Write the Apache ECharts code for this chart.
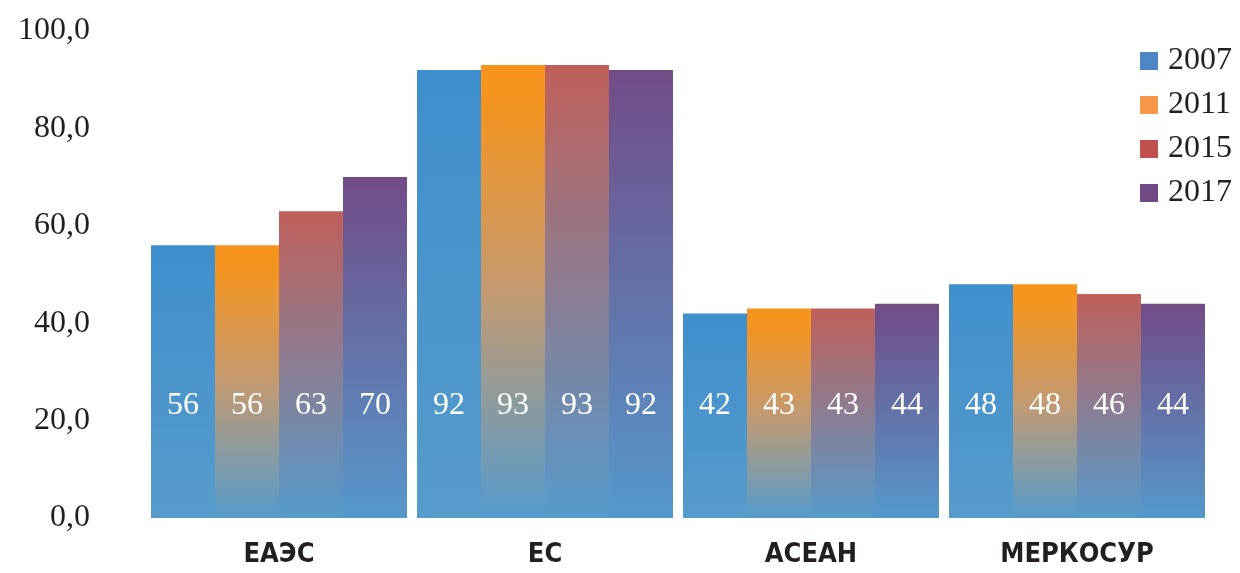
<!DOCTYPE html>
<html>
<head>
<meta charset="utf-8">
<script src="https://cdn.jsdelivr.net/npm/echarts@6/dist/echarts.min.js"></script>
<style>
html,body{margin:0;padding:0;background:#fff;}
#chart{width:1240px;height:573px;}
</style>
</head>
<body>
<div id="chart"></div>
<script>
const categories = ['ЕАЭС', 'ЕС', 'АСЕАН', 'МЕРКОСУР'];
const years = ['2007', '2011', '2015', '2017'];
const s2007 = [56, 92, 42, 48];
const s2011 = [56, 93, 43, 48];
const s2015 = [63, 93, 43, 46];
const s2017 = [70, 92, 44, 44];
const yTicks = [0, 20, 40, 60, 80, 100];

const seriesValues = [s2007, s2011, s2015, s2017];
const legendColors = ['#4f86c6', '#f79646', '#c0504d', '#6f4a85'];
const gradients = [
  [[0, '#3f8ecd'], [1, '#569ccb']],
  [[0, '#f7941d'], [0.08, '#f5941f'], [0.5, '#c49a70'], [1, '#559bcc']],
  [[0, '#c0605a'], [1, '#569acb']],
  [[0, '#724c87'], [1, '#5598cb']]
];
const serif = '"Liberation Serif", "DejaVu Serif", serif';

const chart = echarts.init(document.getElementById('chart'), null, {renderer: 'canvas'});
const series = years.map((y, i) => ({
  name: y,
  type: 'bar',
  data: seriesValues[i],
  barWidth: 64,
  barGap: '0%',
  itemStyle: {
    color: new echarts.graphic.LinearGradient(0, 0, 0, 1,
      gradients[i].map(s => ({offset: s[0], color: s[1]})))
  },
  label: {
    show: true,
    position: 'insideBottom',
    distance: 96,
    color: '#ffffff',
    fontFamily: serif,
    fontSize: 32
  }
}));

chart.setOption({
  animation: false,
  backgroundColor: '#ffffff',
  grid: {left: 146, right: 30, top: 31, bottom: 55, containLabel: false},
  legend: {
    orient: 'vertical',
    left: 1135,
    top: 40,
    itemWidth: 18,
    itemHeight: 18,
    itemGap: 12,
    textStyle: {fontFamily: serif, fontSize: 32, color: '#231f20', padding: [0, 0, 0, 5]},
    data: years.map((y, i) => ({name: y, icon: 'rect', itemStyle: {color: legendColors[i]}}))
  },
  xAxis: {
    type: 'category',
    data: categories,
    axisLine: {show: false},
    axisTick: {show: false},
    axisLabel: {
      margin: 23,
      color: '#231f20',
      fontFamily: '"DejaVu Sans Condensed", "DejaVu Sans", sans-serif',
      fontWeight: 'bold',
      fontSize: 27
    }
  },
  yAxis: {
    type: 'value',
    min: yTicks[0],
    max: yTicks[yTicks.length - 1],
    interval: 20,
    splitLine: {show: false},
    axisLine: {show: false},
    axisTick: {show: false},
    axisLabel: {
      margin: 56,
      color: '#231f20',
      fontFamily: serif,
      fontSize: 32,
      formatter: v => v.toFixed(1).replace('.', ',')
    }
  },
  series: series
});
</script>
</body>
</html>
